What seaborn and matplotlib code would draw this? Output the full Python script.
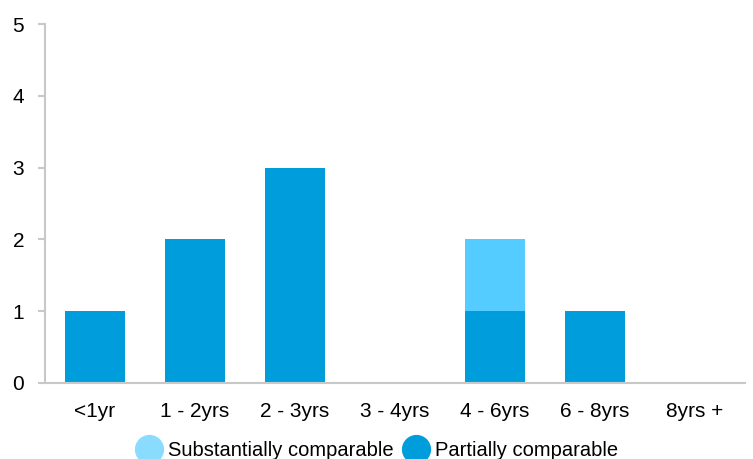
import numpy as np
import pandas as pd
import seaborn as sns
import matplotlib.pyplot as plt
from matplotlib.lines import Line2D

categories = ["<1yr", "1 - 2yrs", "2 - 3yrs", "3 - 4yrs", "4 - 6yrs", "6 - 8yrs", "8yrs +"]
partially = [1, 2, 3, 0, 1, 1, 0]
substantially = [0, 0, 0, 0, 1, 0, 0]
y_ticks = [0, 1, 2, 3, 4, 5]

DARK = "#009DDC"
LIGHT = "#55CCFF"
LIGHT_LEG = "#8ADCFF"
AXIS = "#C8C8C8"

sns.set_style("white")
plt.rcParams["font.family"] = ["Liberation Sans", "DejaVu Sans"]
plt.rcParams["text.color"] = "black"
plt.rcParams["xtick.labelcolor"] = "black"
plt.rcParams["ytick.labelcolor"] = "black"

df = pd.DataFrame({
    "cat": categories,
    "partial": partially,
    "total": np.array(partially) + np.array(substantially),
})

fig = plt.figure(figsize=(7.53, 4.59), dpi=100)
ax = fig.add_axes([0.0598, 0.1656, 0.929, 0.782])

# light (total) first, dark (partial) drawn over it -> stacked look
sns.barplot(data=df, x="cat", y="total", color=LIGHT, width=0.6, linewidth=0,
            saturation=1, ax=ax)
sns.barplot(data=df, x="cat", y="partial", color=DARK, width=0.6, linewidth=0,
            saturation=1, ax=ax)

ax.set_xlim(-0.5, len(categories) - 0.5)
ax.set_ylim(0, 5)
ax.set_yticks(y_ticks)
ax.set_xlabel("")
ax.set_ylabel("")

for s in ["top", "right"]:
    ax.spines[s].set_visible(False)
for s in ["left", "bottom"]:
    ax.spines[s].set_color(AXIS)
    ax.spines[s].set_linewidth(1.5)

ax.set_xticks(np.arange(-0.5, len(categories)), minor=True)
ax.tick_params(axis="x", which="major", length=0, pad=14, labelsize=15, labelcolor="black")
ax.tick_params(axis="x", which="minor", length=5, width=1.5, color=AXIS, direction="out")
ax.tick_params(axis="y", length=5, width=1.5, color=AXIS, direction="out", pad=10,
               labelsize=15, labelcolor="black")
ax.tick_params(axis="both", left=True, bottom=True)

handles = [
    Line2D([], [], marker="o", linestyle="", markersize=20, color=LIGHT_LEG,
           label="Substantially comparable"),
    Line2D([], [], marker="o", linestyle="", markersize=20, color=DARK,
           label="Partially comparable"),
]
fig.legend(handles=handles, loc="center", bbox_to_anchor=(0.5, 0.018), ncol=2,
           frameon=False, fontsize=14.5, handletextpad=0.25, columnspacing=0.4,
           handlelength=1.4)

fig.savefig("out.png", dpi=100)
